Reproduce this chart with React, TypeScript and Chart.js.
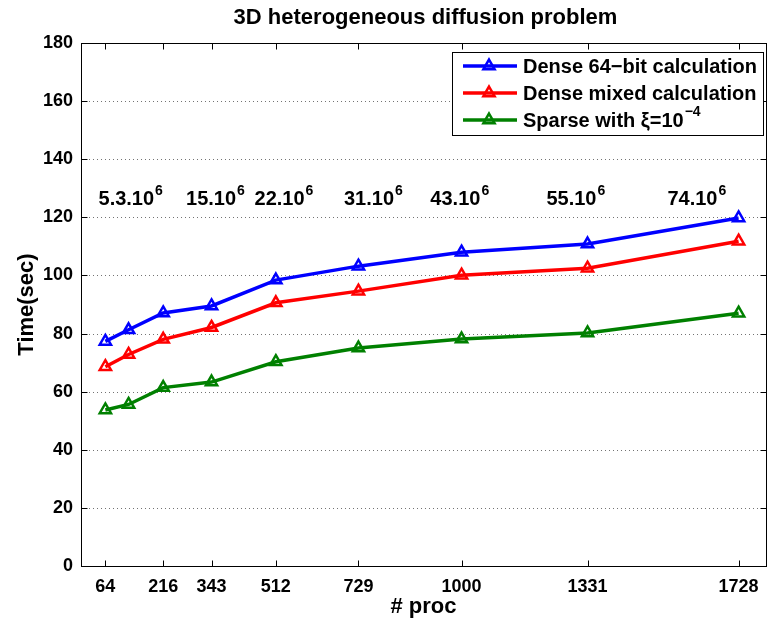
import React, { useEffect, useRef } from "react";
import { Chart, registerables } from "chart.js";
Chart.register(...registerables);

const procs = [64, 125, 216, 343, 512, 729, 1000, 1331, 1728];
const xTickValues = [64, 216, 343, 512, 729, 1000, 1331, 1728];
const dense64 = [77.3, 81.3, 87.1, 89.5, 98.4, 103.2, 108, 110.8, 119.8];
const denseMixed = [68.6, 72.8, 78, 82.1, 90.6, 94.6, 100.1, 102.5, 111.8];
const sparse = [53.7, 55.6, 61.4, 63.3, 70.3, 75, 78.1, 80.2, 87];

const seriesNames = ["Dense 64\u2212bit calculation", "Dense mixed calculation", "Sparse with \u03BE=10"];
const seriesSup = ["", "", "\u22124"];
const seriesColors = ["#0000ff", "#ff0000", "#008000"];

const annotBase = ["5.3.10", "15.10", "22.10", "31.10", "43.10", "55.10", "74.10"];
const annotExp = ["6", "6", "6", "6", "6", "6", "6"];
const annotX = [46, 276, 456, 691, 918, 1223, 1541];
const annotY = 126;

const titleText = "3D heterogeneous diffusion problem";
const xTitle = "# proc";
const yTitle = "Time(sec)";

const FONT = "'Liberation Sans', Arial, sans-serif";

function drawSup(ctx: CanvasRenderingContext2D, base: string, sup: string, x: number, y: number, size: number) {
  ctx.font = `bold ${size}px ${FONT}`;
  ctx.textAlign = "left";
  ctx.textBaseline = "middle";
  ctx.fillText(base, x, y);
  const w = ctx.measureText(base).width;
  if (sup) {
    ctx.font = `bold ${Math.round(size * 0.7)}px ${FONT}`;
    ctx.fillText(sup, x + w + 1, y - size * 0.42);
  }
}

function drawTriangle(ctx: CanvasRenderingContext2D, x: number, y: number, r: number) {
  ctx.beginPath();
  for (let i = 0; i < 3; i++) {
    const a = (i * 2 * Math.PI) / 3;
    const px = x + Math.sin(a) * r;
    const py = y - Math.cos(a) * r;
    if (i === 0) ctx.moveTo(px, py);
    else ctx.lineTo(px, py);
  }
  ctx.closePath();
  ctx.stroke();
}

const decorPlugin = {
  id: "decor",
  beforeDatasetsDraw(chart: any) {
    const { ctx, chartArea, scales } = chart;
    const ys = scales.y;
    ctx.save();
    ctx.strokeStyle = "rgba(0,0,0,0.55)";
    ctx.lineWidth = 1;
    ctx.setLineDash([1, 3]);
    for (let v = 20; v < 180; v += 20) {
      const py = Math.round(ys.getPixelForValue(v)) + 0.5;
      ctx.beginPath();
      ctx.moveTo(chartArea.left, py);
      ctx.lineTo(chartArea.right, py);
      ctx.stroke();
    }
    ctx.restore();
  },
  afterDatasetsDraw(chart: any) {
    const { ctx, chartArea, scales } = chart;
    const xs = scales.x;
    const ys = scales.y;
    const L = Math.round(chartArea.left) + 0.5;
    const R = Math.round(chartArea.right) + 0.5;
    const T = Math.round(chartArea.top) + 0.5;
    const B = Math.round(chartArea.bottom) + 0.5;
    ctx.save();
    ctx.strokeStyle = "#000";
    ctx.lineWidth = 1;
    ctx.setLineDash([]);
    ctx.strokeRect(L, T, R - L, B - T);
    const tl = 6;
    xTickValues.forEach((v) => {
      const px = Math.round(xs.getPixelForValue(v)) + 0.5;
      ctx.beginPath();
      ctx.moveTo(px, B);
      ctx.lineTo(px, B - tl);
      ctx.moveTo(px, T);
      ctx.lineTo(px, T + tl);
      ctx.stroke();
    });
    for (let v = 0; v <= 180; v += 20) {
      const py = Math.round(ys.getPixelForValue(v)) + 0.5;
      ctx.beginPath();
      ctx.moveTo(L, py);
      ctx.lineTo(L + tl, py);
      ctx.moveTo(R, py);
      ctx.lineTo(R - tl, py);
      ctx.stroke();
    }

    // annotations
    ctx.fillStyle = "#000";
    annotBase.forEach((b, i) => {
      drawSup(ctx, b, annotExp[i], xs.getPixelForValue(annotX[i]), ys.getPixelForValue(annotY), 20);
    });

    // legend
    const lx = 452, ly = 52, lw = 311, lh = 83;
    ctx.fillStyle = "#fff";
    ctx.fillRect(lx, ly, lw, lh);
    ctx.strokeStyle = "#000";
    ctx.lineWidth = 1;
    ctx.strokeRect(lx + 0.5, ly + 0.5, lw, lh);
    const rows = [66, 93, 120];
    seriesNames.forEach((name, i) => {
      const y = rows[i];
      ctx.strokeStyle = seriesColors[i];
      ctx.lineWidth = 3.5;
      ctx.beginPath();
      ctx.moveTo(463, y);
      ctx.lineTo(517, y);
      ctx.stroke();
      ctx.lineWidth = 2.5;
      drawTriangle(ctx, 489, y, 6.5);
      ctx.fillStyle = "#000";
      drawSup(ctx, name, seriesSup[i], 523, y + 1, 20);
    });

    // titles
    ctx.fillStyle = "#000";
    ctx.font = `bold 22px ${FONT}`;
    ctx.textAlign = "center";
    ctx.textBaseline = "middle";
    ctx.fillText(titleText, (chartArea.left + chartArea.right) / 2 + 2, 18);
    ctx.fillText(xTitle, (chartArea.left + chartArea.right) / 2, 607);
    ctx.save();
    ctx.translate(27, (chartArea.top + chartArea.bottom) / 2);
    ctx.rotate(-Math.PI / 2);
    ctx.fillText(yTitle, 0, 0);
    ctx.restore();
    ctx.restore();
  },
};

export default function App() {
  const ref = useRef<HTMLCanvasElement | null>(null);
  useEffect(() => {
    if (!ref.current) return;
    const mk = (data: number[], color: string, label: string) => ({
      label,
      data: data.map((y, i) => ({ x: procs[i], y })),
      borderColor: color,
      backgroundColor: "transparent",
      borderWidth: 3.5,
      pointStyle: "triangle",
      pointRadius: 6.5,
      pointBorderWidth: 2.5,
      pointBackgroundColor: "transparent",
      pointBorderColor: color,
      tension: 0,
    });
    const chart = new Chart(ref.current, {
      type: "line",
      data: {
        datasets: [
          mk(dense64, seriesColors[0], seriesNames[0]),
          mk(denseMixed, seriesColors[1], seriesNames[1]),
          mk(sparse, seriesColors[2], seriesNames[2]),
        ],
      },
      options: {
        responsive: false,
        animation: false,
        devicePixelRatio: 1,
        layout: { padding: { left: 0, right: 4, top: 43, bottom: 0 } },
        plugins: { legend: { display: false }, tooltip: { enabled: false }, title: { display: false } },
        scales: {
          x: {
            type: "linear",
            min: 0,
            max: 1800,
            grid: { display: false, drawTicks: false },
            border: { display: false },
            afterBuildTicks: (s: any) => {
              s.ticks = xTickValues.map((v) => ({ value: v }));
            },
            afterFit: (s: any) => {
              s.height = 57;
            },
            ticks: {
              color: "#000",
              font: { family: FONT, size: 18, weight: "bold" },
              padding: 10,
              maxRotation: 0,
              autoSkip: false,
              callback: (v: any) => String(v),
            },
          },
          y: {
            min: 0,
            max: 180,
            grid: { display: false, drawTicks: false },
            border: { display: false },
            afterFit: (s: any) => {
              s.width = 81;
            },
            ticks: {
              stepSize: 20,
              color: "#000",
              font: { family: FONT, size: 18, weight: "bold" },
              padding: 8,
            },
          },
        },
      },
      plugins: [decorPlugin],
    } as any);
    return () => chart.destroy();
  }, []);
  return (
    <div style={{ position: "absolute", left: 0, top: 0, width: 767, height: 623, overflow: "hidden", background: "#fff" }}>
      <canvas ref={ref} width={775} height={623} style={{ display: "block" }} />
    </div>
  );
}
